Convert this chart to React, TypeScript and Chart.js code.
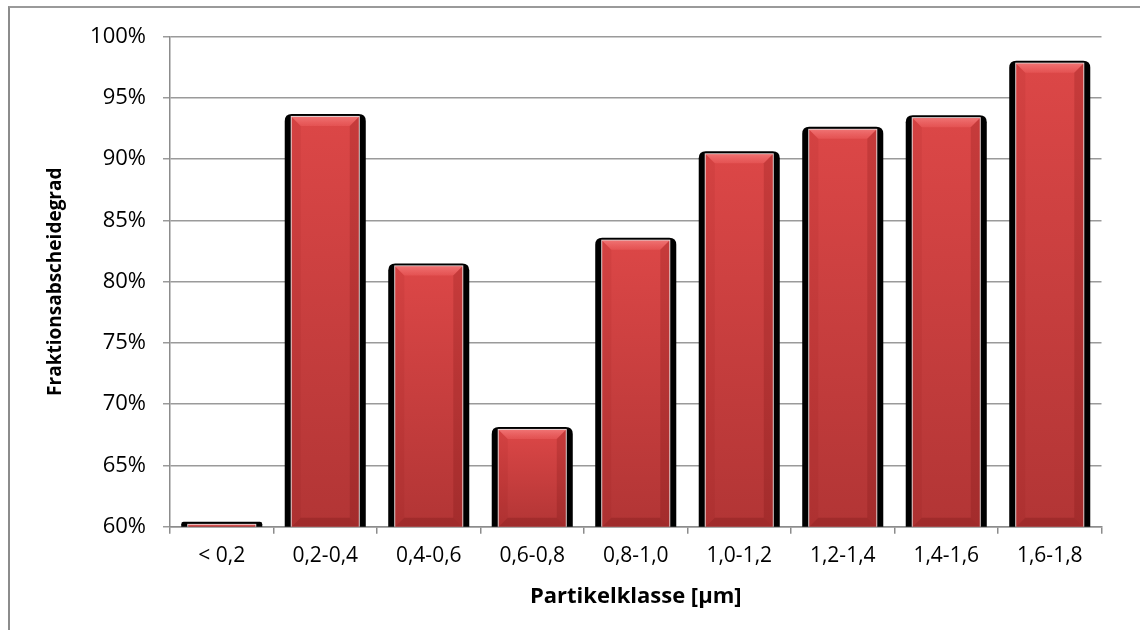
import React, { useEffect, useRef } from "react";
import { Chart, registerables } from "chart.js";

Chart.register(...registerables);

const categories = ["< 0,2", "0,2-0,4", "0,4-0,6", "0,6-0,8", "0,8-1,0", "1,0-1,2", "1,2-1,4", "1,4-1,6", "1,6-1,8"];
const values = [60.15, 93.45, 81.25, 67.9, 83.35, 90.4, 92.4, 93.35, 97.8];
const yMin = 60;
const yMax = 100;
const yStep = 5;
const yTitle = "Fraktionsabscheidegrad";
const xTitle = "Partikelklasse [µm]";

const FONT = "'Open Sans', 'Noto Sans', sans-serif";

const bevelBars = {
  id: "bevelBars",
  afterDatasetsDraw(chart: any) {
    const ctx = chart.ctx as CanvasRenderingContext2D;
    const meta = chart.getDatasetMeta(0);
    const area = chart.chartArea;
    ctx.save();
    meta.data.forEach((el: any) => {
      const p = el.getProps(["x", "y", "base", "width"], true);
      const x = p.x;
      const width = p.width;
      const base = Math.min(p.base, area.bottom);
      const top = Math.max(p.y, area.top);
      const left = x - width / 2;
      const right = x + width / 2;
      const inset = 7;
      const x0 = left + inset;
      const x1 = right - inset;
      const h = base - top;
      if (h <= 0) return;
      // black shadow
      const sTop = top - 3;
      const r = Math.min(7, (base - sTop) / 2);
      ctx.fillStyle = "#000";
      ctx.beginPath();
      ctx.moveTo(left, base);
      ctx.lineTo(left, sTop + r);
      ctx.quadraticCurveTo(left, sTop, left + r, sTop);
      ctx.lineTo(right - r, sTop);
      ctx.quadraticCurveTo(right, sTop, right, sTop + r);
      ctx.lineTo(right, base);
      ctx.closePath();
      ctx.fill();
      // thin light edge
      ctx.fillStyle = "rgba(255,235,235,0.9)";
      ctx.fillRect(x0 - 1, top - 1, x1 - x0 + 2, h + 1);
      // red body
      const g = ctx.createLinearGradient(0, top, 0, base);
      g.addColorStop(0, "#dc4747");
      g.addColorStop(1, "#b23535");
      ctx.fillStyle = g;
      ctx.fillRect(x0, top, x1 - x0, h);
      // bevel
      const b = Math.min(9, h / 2, (x1 - x0) / 2);
      const gt = ctx.createLinearGradient(0, top, 0, top + b);
      gt.addColorStop(0, "rgba(255,150,150,0.55)");
      gt.addColorStop(1, "rgba(255,120,120,0.25)");
      ctx.fillStyle = gt;
      ctx.beginPath();
      ctx.moveTo(x0, top);
      ctx.lineTo(x1, top);
      ctx.lineTo(x1 - b, top + b);
      ctx.lineTo(x0 + b, top + b);
      ctx.closePath();
      ctx.fill();
      ctx.fillStyle = "rgba(120,0,0,0.07)";
      ctx.beginPath();
      ctx.moveTo(x0, top);
      ctx.lineTo(x0 + b, top + b);
      ctx.lineTo(x0 + b, base - b);
      ctx.lineTo(x0, base);
      ctx.closePath();
      ctx.fill();
      ctx.fillStyle = "rgba(90,0,0,0.16)";
      ctx.beginPath();
      ctx.moveTo(x1, top);
      ctx.lineTo(x1 - b, top + b);
      ctx.lineTo(x1 - b, base - b);
      ctx.lineTo(x1, base);
      ctx.closePath();
      ctx.fill();
      ctx.fillStyle = "rgba(80,0,0,0.18)";
      ctx.beginPath();
      ctx.moveTo(x0, base);
      ctx.lineTo(x0 + b, base - b);
      ctx.lineTo(x1 - b, base - b);
      ctx.lineTo(x1, base);
      ctx.closePath();
      ctx.fill();
    });
    ctx.restore();
  },
};

export default function App() {
  const ref = useRef<HTMLCanvasElement | null>(null);

  useEffect(() => {
    if (!ref.current) return;
    const chart = new Chart(ref.current, {
      type: "bar",
      data: {
        labels: categories,
        datasets: [
          {
            data: values,
            backgroundColor: "rgba(0,0,0,0)",
            borderWidth: 0,
            barPercentage: 0.783,
            categoryPercentage: 1,
          },
        ],
      },
      options: {
        responsive: false,
        animation: false,
        devicePixelRatio: 1,
        events: [],
        layout: { padding: { left: 0, right: 38.5, top: 36.7, bottom: 0 } },
        plugins: {
          legend: { display: false },
          tooltip: { enabled: false },
        },
        scales: {
          x: {
            z: 1,
            grid: {
              drawOnChartArea: false,
              drawTicks: true,
              tickLength: 7,
              color: "#8c8c8c",
              lineWidth: 1.5,
            },
            border: { color: "#8c8c8c", width: 1.5 },
            ticks: {
              color: "#000",
              font: { family: FONT, size: 21 },
              padding: 10,
              maxRotation: 0,
              autoSkip: false,
            },
            title: {
              display: true,
              text: xTitle,
              color: "#000",
              font: { family: FONT, size: 22, weight: "bold" },
              padding: { top: 0, bottom: 20 },
            },
            afterFit(scale: any) {
              scale.height = 103.3;
            },
          },
          y: {
            min: yMin,
            max: yMax,
            grid: {
              color: "#9a9a9a",
              lineWidth: 1.5,
              tickLength: 7,
            },
            border: { color: "#8c8c8c", width: 1.5 },
            ticks: {
              stepSize: yStep,
              color: "#000",
              font: { family: FONT, size: 22 },
              padding: 17,
              callback: (v: any) => `${v}%`,
            },
            title: {
              display: true,
              text: yTitle,
              color: "#000",
              font: { family: FONT, size: 19, weight: "bold" },
              padding: { top: 44, bottom: 0 },
            },
            afterFit(scale: any) {
              scale.width = 170;
            },
          },
        },
      },
      plugins: [bevelBars],
    });
    return () => chart.destroy();
  }, []);

  return (
    <div style={{ position: "fixed", left: 0, top: 0, width: 1140, height: 630, overflow: "hidden", background: "#fff" }}>
      <div
        style={{
          position: "absolute",
          left: 8,
          top: 6,
          width: 1200,
          height: 700,
          borderLeft: "2px solid #8c8c8c",
          borderTop: "2px solid #9a9a9a",
        }}
      />
      <canvas
        ref={ref}
        width={1140}
        height={630}
        style={{ position: "absolute", left: 0, top: 0, width: 1140, height: 630, display: "block" }}
      />
    </div>
  );
}
